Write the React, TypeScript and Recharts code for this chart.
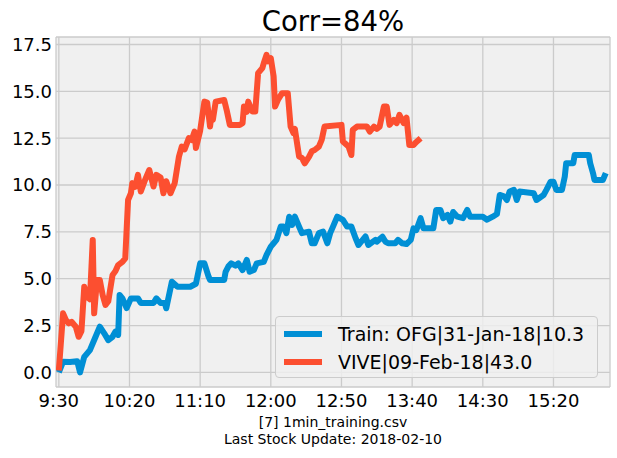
import { CartesianGrid, Line, LineChart, XAxis, YAxis } from "recharts";

const BLUE = "#008fd5";
const ORANGE = "#fc4f30";
const FONT = "DejaVu Sans";

// minute index from 9:30
const OFG_MIN = [
  0, 3, 8, 13, 15, 18, 22, 26, 29, 32, 35, 38, 40, 42, 43, 45, 48, 51, 56, 58,
  67, 69, 72, 75, 76, 80, 84, 93, 97, 100, 103, 106, 107, 117, 118, 120, 122,
  125, 127, 130, 133, 135, 138, 140, 145, 147, 150, 152, 154, 157, 159, 161,
  163, 165, 167, 170, 172, 177, 179, 181, 184, 187, 190, 192, 194, 197, 201,
  204, 207, 210, 212, 214, 217, 219, 224, 225, 229, 231, 233, 238, 240, 243,
  246, 249, 251, 253, 256, 258, 265, 267, 270, 272, 275, 277, 279, 282, 286,
  289, 291, 300, 303, 307, 310, 312, 315, 317, 319, 322, 324, 326, 336, 338,
  343, 345, 348, 350, 352, 356, 358, 359, 364, 365, 375, 376, 378, 379, 385,
  387,
];
const OFG_VAL = [
  0.0, 0.57, 0.55, 0.6, 0.0, 0.83, 1.19, 1.9, 2.44, 2.1, 1.72, 1.9, 2.17, 2.0,
  4.13, 3.95, 3.43, 3.95, 3.95, 3.7, 3.7, 3.95, 3.7, 3.7, 3.42, 4.84, 4.57,
  4.57, 4.73, 5.82, 5.82, 5.1, 4.93, 4.93, 5.37, 5.66, 5.82, 5.7, 5.82, 5.46,
  6.0, 5.37, 5.46, 5.82, 5.9, 6.27, 6.71, 6.89, 7.07, 7.78, 7.78, 7.43, 8.31,
  7.87, 8.31, 7.78, 7.43, 7.51, 6.89, 6.89, 7.43, 7.51, 6.89, 7.43, 7.78, 8.31,
  8.14, 7.78, 7.78, 7.16, 6.8, 6.98, 7.25, 6.8, 7.07, 6.98, 7.24, 6.98, 6.89,
  6.89, 7.07, 6.89, 6.85, 7.07, 7.69, 7.6, 8.23, 7.69, 7.69, 8.67, 8.67, 8.23,
  8.4, 8.05, 8.56, 8.31, 8.23, 8.67, 8.31, 8.31, 8.15, 8.31, 8.45, 9.47, 9.4,
  9.2, 9.65, 9.74, 9.2, 9.65, 9.56, 9.2, 9.47, 9.74, 10.18, 10.18, 9.74, 9.74,
  10.45, 11.16, 11.16, 11.6, 11.6, 11.16, 10.63, 10.27, 10.27, 10.63,
];

const VIVE_MIN = [
  0, 3, 5, 7, 9, 12, 14, 16, 18, 20, 22, 24, 25, 27, 29, 31, 33, 35, 38, 40, 42,
  45, 47, 49, 51, 52, 54, 56, 58, 61, 64, 67, 69, 72, 74, 76, 79, 82, 85, 87,
  89, 92, 94, 96, 97, 100, 103, 105, 107, 108, 109, 111, 117, 119, 121, 128,
  130, 131, 133, 134, 137, 139, 141, 144, 145, 147, 148, 150, 152, 153, 155,
  158, 162, 164, 166, 167, 170, 172, 174, 177, 179, 181, 184, 186, 188, 200,
  201, 205, 207, 208, 211, 218, 220, 223, 225, 227, 230, 232, 234, 237, 239,
  241, 244, 246, 248, 251, 253, 256,
];
const VIVE_VAL = [
  0.1, 3.15, 2.8, 2.62, 2.7, 2.44, 1.9, 2.2, 4.57, 4.04, 3.9, 7.07, 3.15, 4.93,
  4.93, 4.13, 3.6, 3.8, 5.2, 5.4, 5.73, 5.9, 6.09, 9.2, 9.56, 10.1, 9.9, 10.54,
  9.65, 10.27, 10.8, 9.92, 10.54, 10.4, 9.56, 10.2, 9.56, 10.1, 11.52, 12.05,
  11.9, 12.5, 12.4, 12.85, 11.97, 12.9, 14.45, 14.4, 13.12, 13.74, 13.48, 14.45,
  14.54, 13.92, 13.21, 13.21, 13.3, 14.19, 13.9, 14.45, 13.92, 13.92, 15.97,
  16.24, 16.5, 16.95, 16.6, 16.77, 15.79, 14.19, 14.54, 14.9, 14.9, 13.12,
  12.77, 13.0, 11.52, 11.45, 11.16, 11.5, 11.8, 11.87, 12.05, 12.41, 13.12,
  13.21, 12.32, 12.05, 11.6, 12.94, 13.12, 13.12, 12.85, 13.12, 13.0, 13.12,
  14.19, 14.19, 13.21, 13.48, 13.3, 13.74, 13.3, 13.6, 12.14, 12.14, 12.3, 12.5,
];

const X_TICKS = [0, 50, 100, 150, 200, 250, 300, 350];
const X_LABELS = ["9:30", "10:20", "11:10", "12:00", "12:50", "13:40", "14:30", "15:20"];
const Y_TICKS = [0, 2.5, 5, 7.5, 10, 12.5, 15, 17.5];

const SERIES = [
  { name: "Train: OFG|31-Jan-18|10.3", color: BLUE },
  { name: "VIVE|09-Feb-18|43.0", color: ORANGE },
];

const ofgData = OFG_MIN.map((m, i) => ({ m, v: OFG_VAL[i] }));
const viveData = VIVE_MIN.map((m, i) => ({ m, v: VIVE_VAL[i] }));

// legend drawn as an overlay so it doesn't eat into the plot area
function LegendBox() {
  return (
    <div
      style={{
        position: "absolute",
        left: 275,
        top: 316,
        width: 323,
        height: 62,
        boxSizing: "border-box",
        border: "1px solid #cccccc",
        borderRadius: 4,
        background: "rgba(240,240,240,0.8)",
        paddingTop: 3,
      }}
    >
      {SERIES.map((s) => (
        <div
          key={s.name}
          style={{ display: "flex", alignItems: "center", height: 28, paddingLeft: 8 }}
        >
          <span style={{ width: 38, height: 6, background: s.color, marginRight: 16 }} />
          <span style={{ fontFamily: FONT, fontSize: 19, color: "#000", whiteSpace: "nowrap" }}>
            {s.name}
          </span>
        </div>
      ))}
    </div>
  );
}

export default function App() {
  return (
    <div
      style={{
        position: "absolute",
        left: 0,
        top: 0,
        width: 617,
        height: 458,
        background: "#fff",
        fontFamily: FONT,
      }}
    >
      <div
        style={{
          position: "absolute",
          left: 56,
          width: 554,
          top: 5,
          textAlign: "center",
          fontSize: 27.5,
          lineHeight: "32px",
          color: "#000",
        }}
      >
        Corr=84%
      </div>
      <LineChart width={617} height={458} margin={{ top: 37, right: 7, bottom: 41, left: 0 }}>
        <CartesianGrid fill="#f0f0f0" stroke="#cbcbcb" strokeWidth={1.3} />
        <XAxis
          type="number"
          dataKey="m"
          domain={[-2, 390]}
          ticks={X_TICKS}
          tickFormatter={(v) => X_LABELS[X_TICKS.indexOf(v)]}
          axisLine={false}
          tickLine={false}
          tickSize={4}
          tickMargin={3}
          height={30}
          tick={{ fontSize: 18, fill: "#000", fontFamily: FONT }}
          allowDataOverflow
        />
        <YAxis
          type="number"
          domain={[-0.78, 17.9]}
          ticks={Y_TICKS}
          tickFormatter={(v) => v.toFixed(1)}
          axisLine={false}
          tickLine={false}
          tickSize={3}
          tickMargin={1}
          width={56}
          tick={{ fontSize: 18, fill: "#000", fontFamily: FONT }}
          allowDataOverflow
        />
        <Line
          data={ofgData}
          dataKey="v"
          stroke={BLUE}
          strokeWidth={6}
          strokeLinejoin="round"
          dot={false}
          isAnimationActive={false}
        />
        <Line
          data={viveData}
          dataKey="v"
          stroke={ORANGE}
          strokeWidth={6}
          strokeLinejoin="round"
          dot={false}
          isAnimationActive={false}
        />
      </LineChart>
      <LegendBox />
      <div
        style={{
          position: "absolute",
          left: 56,
          width: 554,
          top: 414,
          textAlign: "center",
          fontSize: 14,
          lineHeight: "17px",
          color: "#000",
        }}
      >
        <div>[7] 1min_training.csv</div>
        <div>Last Stock Update: 2018-02-10</div>
      </div>
    </div>
  );
}
